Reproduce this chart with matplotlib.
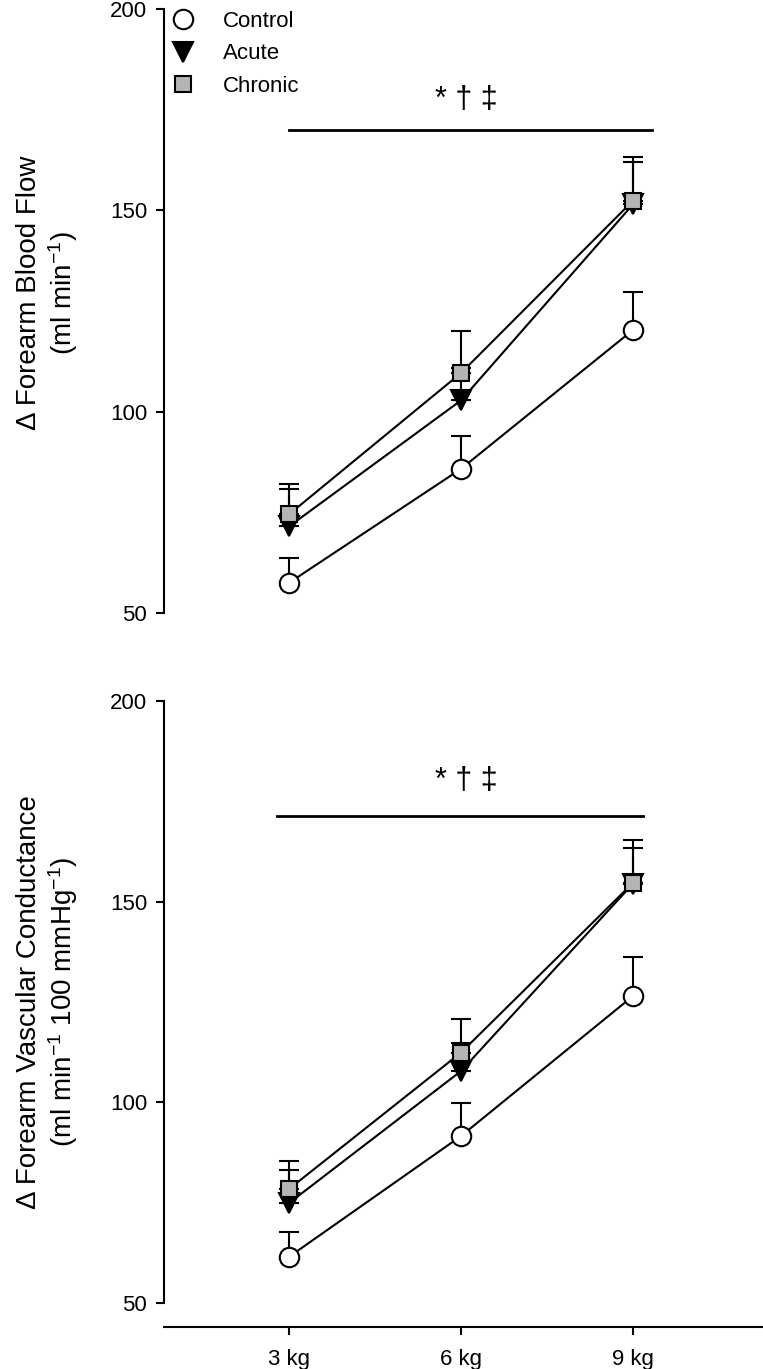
import numpy as np
import matplotlib
matplotlib.use("Agg")
import matplotlib.pyplot as plt
from matplotlib.lines import Line2D

plt.rcParams["font.family"] = ["Liberation Sans", "DejaVu Sans"]
plt.rcParams["mathtext.fontset"] = "custom"
plt.rcParams["mathtext.rm"] = "Liberation Sans"
plt.rcParams["mathtext.it"] = "Liberation Sans:italic"
plt.rcParams["mathtext.default"] = "regular"

# data
loads = ["3 kg", "6 kg", "9 kg"]
x = np.array([1, 2, 3])

fbf_control = [57.5, 85.8, 120.3]
fbf_control_err = [6.2, 8.2, 9.5]
fbf_acute = [71.5, 102.8, 151.5]
fbf_acute_err = [9.3, 8.0, 10.5]
fbf_chronic = [74.5, 109.6, 152.4]
fbf_chronic_err = [7.5, 10.5, 10.8]

fvc_control = [61.5, 91.6, 126.5]
fvc_control_err = [6.1, 8.2, 9.6]
fvc_acute = [74.9, 107.8, 154.5]
fvc_acute_err = [8.2, 7.0, 8.8]
fvc_chronic = [78.4, 112.4, 154.7]
fvc_chronic_err = [7.1, 8.3, 10.8]

sig_text = "* \u2020 \u2021"

series_style = [
    ("Control", "o", "white", 14),
    ("Acute", "v", "black", 14),
    ("Chronic", "s", "#b4b4b4", 11.5),
]

fig = plt.figure(figsize=(7.63, 13.69), dpi=100)
ax1 = fig.add_axes([0.2149, 0.5522, 0.7851, 0.4412])
ax2 = fig.add_axes([0.2149, 0.0482, 0.7851, 0.4397])


def draw_panel(ax, groups, sig_y, sig_x0, sig_x1, txt_y):
    for (label, mk, fc, ms), (vals, errs) in zip(series_style, groups):
        ax.errorbar(x, vals, yerr=[np.zeros(3), errs], fmt="none",
                    ecolor="black", elinewidth=1.5, capsize=7,
                    capthick=1.5, zorder=2)
        ax.plot(x, vals, color="black", lw=1.5, marker=mk, ms=ms,
                mfc=fc, mec="black", mew=1.5, zorder=3, label=label)
    ax.plot([sig_x0, sig_x1], [sig_y, sig_y], color="black", lw=2)
    ax.text(2.03, txt_y, sig_text, ha="center", va="center", fontsize=22)
    ax.set_xlim(0.273, 3.756)
    ax.set_ylim(50, 200)
    ax.set_yticks([50, 100, 150, 200])
    ax.spines["top"].set_visible(False)
    ax.spines["right"].set_visible(False)
    ax.spines["left"].set_linewidth(1.5)
    ax.tick_params(axis="y", direction="out", length=6, width=1.5,
                   labelsize=16, pad=6)


draw_panel(ax1,
           [(fbf_control, fbf_control_err), (fbf_acute, fbf_acute_err),
            (fbf_chronic, fbf_chronic_err)],
           170, 1.0, 3.11, 177.5)
draw_panel(ax2,
           [(fvc_control, fvc_control_err), (fvc_acute, fvc_acute_err),
            (fvc_chronic, fvc_chronic_err)],
           171.3, 0.93, 3.06, 180)

ax1.spines["bottom"].set_visible(False)
ax1.set_xticks([])

ax2.spines["bottom"].set_position(("outward", 17))
ax2.spines["bottom"].set_linewidth(1.5)
ax2.set_xticks(x)
ax2.set_xticklabels(loads)
ax2.tick_params(axis="x", direction="out", length=6, width=1.5,
                labelsize=16, pad=10)

ax1.set_ylabel("\u0394 Forearm Blood Flow\n(ml min$^{-1}$)", fontsize=20,
               linespacing=1.15)
ax1.yaxis.set_label_coords(-0.14, 0.53)
ax2.set_ylabel("\u0394 Forearm Vascular Conductance\n(ml min$^{-1}$ 100 mmHg$^{-1}$)",
               fontsize=20, linespacing=1.15)
ax2.yaxis.set_label_coords(-0.14, 0.5)

handles = [Line2D([], [], ls="none", marker=mk, ms=ms, mfc=fc, mec="black",
                  mew=1.5) for _, mk, fc, ms in series_style]
ax1.legend(handles, [s[0] for s in series_style], loc="upper left",
           bbox_to_anchor=(-0.02, 1.03), frameon=False, fontsize=16,
           handlelength=1.0, handletextpad=1.3, labelspacing=0.52)

plt.savefig("out.png", dpi=100)
